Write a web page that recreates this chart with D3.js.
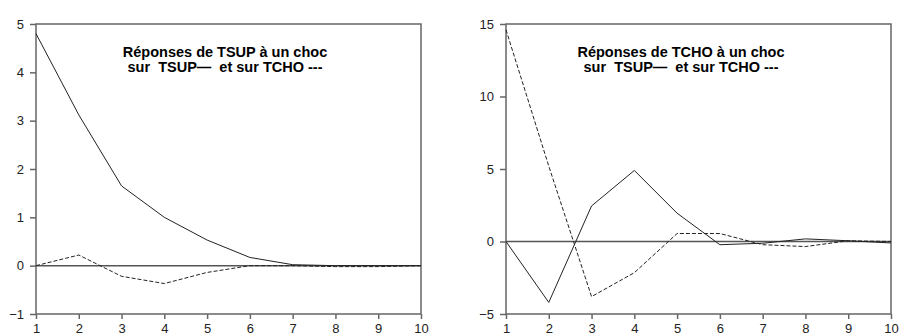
<!DOCTYPE html>
<html>
<head>
<meta charset="utf-8">
<script src="https://cdn.jsdelivr.net/npm/d3@7"></script>
<style>
  body { margin: 0; background: #fff; }
  svg { display: block; font-family: "Liberation Sans", Arial, sans-serif; }
  .title { font-weight: bold; font-size: 14.5px; fill: #000; white-space: pre; }
  .tick text { font-size: 13px; fill: #222; }
</style>
</head>
<body>
<svg id="chart" width="899" height="336"></svg>
<script>
// horizons
var periods = [1, 2, 3, 4, 5, 6, 7, 8, 9, 10];

// responses de TSUP
var tsupOnTsup = [4.8, 3.12, 1.65, 1.0, 0.53, 0.17, 0.02, 0.0, 0.0, 0.0];
var tsupOnTcho = [0.0, 0.22, -0.22, -0.37, -0.14, 0.0, 0.0, -0.02, -0.02, 0.0];

// responses de TCHO
var tchoOnTsup = [0.0, -4.2, 2.45, 4.9, 1.95, -0.22, -0.12, 0.18, 0.05, -0.1];
var tchoOnTcho = [14.6, 5.2, -3.8, -2.15, 0.55, 0.55, -0.22, -0.35, 0.05, 0.0];

var leftTicks = [-1, 0, 1, 2, 3, 4, 5];
var rightTicks = [-5, 0, 5, 10, 15];

var panels = [
  { x0: 36, x1: 421, domain: [-1, 5], ticks: leftTicks, solid: tsupOnTsup, dashed: tsupOnTcho,
    title: ['Réponses de TSUP à un choc', 'sur  TSUP\u2014  et sur TCHO ---'], tx: 225 },
  { x0: 506, x1: 891, domain: [-5, 15], ticks: rightTicks, solid: tchoOnTsup, dashed: tchoOnTcho,
    title: ['Réponses de TCHO à un choc', 'sur  TSUP\u2014  et sur TCHO ---'], tx: 681 }
];

var svg = d3.select('#chart');
var plotTop = 24, plotBottom = 314;
var axisColor = '#666';

panels.forEach(function(p){
  var x = d3.scaleLinear().domain([1, 10]).range([p.x0, p.x1]);
  var y = d3.scaleLinear().domain(p.domain).range([plotBottom, plotTop]);
  var g = svg.append('g');

  // frame
  g.append('rect')
    .attr('x', p.x0).attr('y', plotTop)
    .attr('width', p.x1 - p.x0).attr('height', plotBottom - plotTop)
    .attr('fill', 'none').attr('stroke', axisColor).attr('stroke-width', 1.5);

  // zero line
  g.append('line')
    .attr('x1', p.x0).attr('x2', p.x1)
    .attr('y1', y(0)).attr('y2', y(0))
    .attr('stroke', '#555').attr('stroke-width', 1.5);

  var yAxis = g.append('g')
    .attr('transform', 'translate(' + p.x0 + ',0)')
    .call(d3.axisLeft(y).tickValues(p.ticks).tickSize(6).tickPadding(6).tickFormat(d3.format('d')));
  yAxis.select('.domain').remove();
  yAxis.selectAll('.tick line').attr('stroke', axisColor).attr('stroke-width', 1.5);

  var xAxis = g.append('g')
    .attr('transform', 'translate(0,' + plotBottom + ')')
    .call(d3.axisBottom(x).tickValues(periods).tickSize(5).tickPadding(5).tickFormat(d3.format('d')));
  xAxis.select('.domain').remove();
  xAxis.selectAll('.tick line').attr('stroke', axisColor).attr('stroke-width', 1.5);

  var line = d3.line()
    .x(function(d, i){ return x(periods[i]); })
    .y(function(d){ return y(d); });

  g.append('path').datum(p.dashed)
    .attr('d', line).attr('fill', 'none')
    .attr('stroke', '#222').attr('stroke-width', 1)
    .attr('stroke-dasharray', '4,2');

  g.append('path').datum(p.solid)
    .attr('d', line).attr('fill', 'none')
    .attr('stroke', '#222').attr('stroke-width', 1);

  g.selectAll('text.title').data(p.title).enter().append('text')
    .attr('class', 'title')
    .attr('x', p.tx)
    .attr('y', function(d, i){ return 57 + i * 14.5; })
    .attr('text-anchor', 'middle')
    .text(function(d){ return d; });
});
</script>
</body>
</html>
